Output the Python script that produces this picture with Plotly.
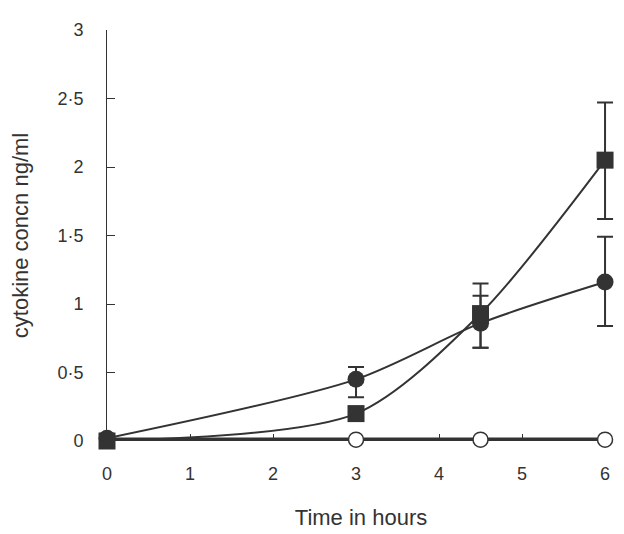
import plotly.graph_objects as go

hours = [0, 3, 4.5, 6]
sq_vals = [0.0, 0.20, 0.93, 2.05]
sq_err_plus = [0, 0, 0.22, 0.42]
sq_err_minus = [0, 0, 0.25, 0.43]
ci_vals = [0.02, 0.45, 0.86, 1.16]
ci_err_plus = [0, 0.09, 0.20, 0.33]
ci_err_minus = [0, 0.13, 0.18, 0.32]
open_vals = [0.01, 0.01, 0.01, 0.01]

ytick_vals = [0, 0.5, 1, 1.5, 2, 2.5, 3]
ytick_text = ["0", "0·5", "1", "1·5", "2", "2·5", "3"]
xtick_vals = [0, 1, 2, 3, 4, 5, 6]

col = "#333333"
fig = go.Figure()

fig.add_trace(go.Scatter(
    x=hours, y=open_vals, mode="lines",
    line=dict(color=col, width=4.5), cliponaxis=False, showlegend=False))
fig.add_trace(go.Scatter(
    x=hours[1:], y=open_vals[1:], mode="markers",
    marker=dict(symbol="circle", size=15, color="white", line=dict(color=col, width=1.5)),
    cliponaxis=False, showlegend=False))

fig.add_trace(go.Scatter(
    x=hours, y=ci_vals, mode="lines+markers",
    line=dict(color=col, width=2, shape="spline", smoothing=0.8),
    marker=dict(symbol="circle", size=17, color=col),
    error_y=dict(type="data", symmetric=False, array=ci_err_plus, arrayminus=ci_err_minus,
                 color=col, thickness=2, width=8),
    cliponaxis=False, showlegend=False))
fig.add_trace(go.Scatter(
    x=hours, y=sq_vals, mode="lines+markers",
    line=dict(color=col, width=2, shape="spline", smoothing=0.8),
    marker=dict(symbol="square", size=17, color=col),
    error_y=dict(type="data", symmetric=False, array=sq_err_plus, arrayminus=sq_err_minus,
                 color=col, thickness=2, width=8),
    cliponaxis=False, showlegend=False))

fig.update_layout(
    width=616, height=526,
    margin=dict(l=99, r=9, t=22, b=82),
    paper_bgcolor="white", plot_bgcolor="white",
    font=dict(family="Liberation Sans, Arial, sans-serif", size=18, color=col),
    xaxis=dict(range=[0, 6.12], tickvals=xtick_vals, ticks="inside", ticklen=7,
               tickcolor=col, showline=False,
               showgrid=False, zeroline=False, ticklabelstandoff=20, layer="below traces",
               title=dict(text="Time in hours", standoff=26)),
    yaxis=dict(range=[0, 3], tickvals=ytick_vals, ticktext=ytick_text, ticks="inside",
               ticklen=8, tickcolor=col, showline=True, linecolor=col, linewidth=1,
               showgrid=False, zeroline=False, ticklabelstandoff=19, layer="below traces",
               title=dict(text="cytokine concn ng/ml", standoff=23)),
)

fig.write_html("out.html")
